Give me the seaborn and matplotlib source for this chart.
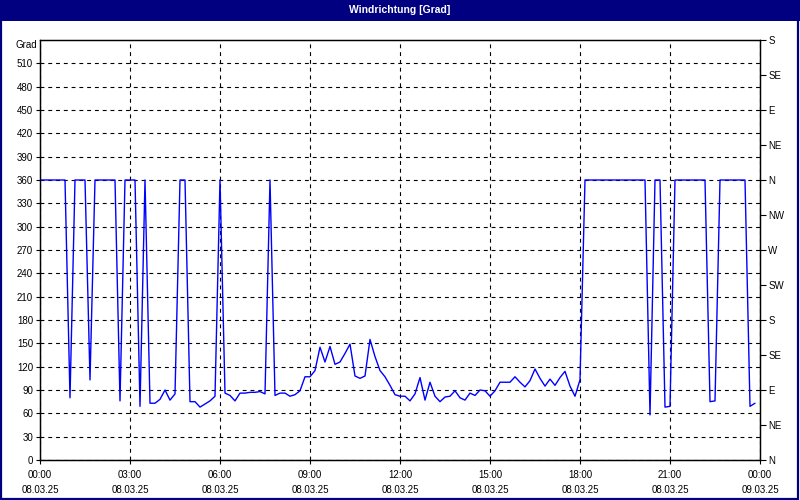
import numpy as np
import pandas as pd
import matplotlib
matplotlib.use("Agg")
import matplotlib.pyplot as plt
from matplotlib.patches import Rectangle
import seaborn as sns

# Windrichtung in Grad, 10-Minuten-Werte vom 08.03.25
richtung = [
    360, 360, 360, 360, 360, 360, 80, 360, 360, 360, 103, 360,
    360, 360, 360, 360, 76, 360, 360, 360, 69, 360, 73, 73,
    78, 90, 77, 85, 360, 360, 75, 75, 68, 72, 76, 82,
    360, 86, 83, 76, 86, 86, 87, 87, 88, 85, 360, 83,
    86, 86, 82, 84, 89, 107, 107, 115, 145, 126, 146, 123,
    126, 137, 149, 108, 105, 108, 155, 133, 115, 107, 96, 84,
    82, 82, 76, 85, 106, 77, 100, 82, 75, 81, 82, 89,
    80, 77, 86, 83, 90, 89, 82, 89, 100, 100, 100, 107,
    100, 94, 102, 117, 105, 95, 104, 96, 106, 114, 95, 82,
    103, 360, 360, 360, 360, 360, 360, 360, 360, 360, 360, 360,
    360, 360, 58, 360, 360, 68, 69, 360, 360, 360, 360, 360,
    360, 360, 75, 76, 360, 360, 360, 360, 360, 360, 69, 73,
]
zeit = pd.date_range("2025-03-08 00:00", periods=len(richtung), freq="10min")

x_ticks = pd.date_range("2025-03-08 00:00", "2025-03-09 00:00", freq="3h")
x_minor = pd.date_range("2025-03-08 00:00", "2025-03-09 00:00", freq="1h")
x_labels = [t.strftime("%H:%M\n%d.%m.%y") for t in x_ticks]

grad_ticks = list(range(0, 540, 30))
kompass_ticks = list(range(0, 541, 45))
kompass_labels = ["N", "NE", "E", "SE", "S", "SW", "W", "NW", "N", "NE", "E", "SE", "S"]

sns.set_style("white")
plt.rcParams["font.family"] = ["Liberation Sans", "DejaVu Sans"]

navy = "#000080"
fig = plt.figure(figsize=(8, 5), dpi=100)
fig.patch.set_facecolor("white")

# title bar + window frame
fig.patches.append(Rectangle((0, 1 - 21 / 500), 1, 21 / 500, transform=fig.transFigure,
                             facecolor=navy, edgecolor="none", zorder=0))
fig.patches.append(Rectangle((0.001, 0.002), 0.997, 0.996, transform=fig.transFigure,
                             facecolor="none", edgecolor=navy, lw=1.6, zorder=5))
fig.text(0.5, 1 - 10 / 500, "Windrichtung [Grad]", color="white", ha="center", va="center",
         fontsize=7.5, fontweight="bold",
         family=["Liberation Sans Narrow", "Liberation Sans", "DejaVu Sans"])

ax = fig.add_axes([40 / 800, 40 / 500, 720 / 800, 420 / 500])
sns.lineplot(x=zeit, y=richtung, ax=ax, color="#0000FF", linewidth=1.0)

ax.set_xlim(x_ticks[0], x_ticks[-1])
ax.set_ylim(0, 540)
ax.set_xlabel("")
ax.set_ylabel("")

ax.set_yticks(grad_ticks)
ax.set_yticklabels([str(v) for v in grad_ticks])
ax.set_xticks(x_ticks)
lbls = ax.set_xticklabels(x_labels)
for lbl in lbls:
    lbl.set_linespacing(1.65)
ax.set_xticks(x_minor, minor=True)

ax.tick_params(axis="both", which="major", direction="out", length=3, width=0.8,
               color="black", labelsize=7, labelcolor="black", pad=2)
ax.tick_params(axis="x", which="major", pad=4)
ax.tick_params(axis="x", which="minor", direction="out", length=3, width=0.8, color="black")
ax.tick_params(left=True, bottom=True)

ax.grid(True, which="major", color="black", linestyle=(0, (3.5, 3.5)), linewidth=0.8)
ax.set_axisbelow(True)
for s in ax.spines.values():
    s.set_color("black")
    s.set_linewidth(0.9)

ax.text(-0.004, 1 - 5 / 420, "Grad", transform=ax.transAxes, ha="right", va="center",
        fontsize=7, color="black")

ax2 = ax.twinx()
ax2.set_ylim(0, 540)
ax2.set_yticks(kompass_ticks)
ax2.set_yticklabels(kompass_labels)
ax2.tick_params(axis="y", direction="out", length=4, width=0.8, color="black",
                labelsize=7, labelcolor="black", pad=2, right=True)
ax2.grid(False)
for s in ax2.spines.values():
    s.set_color("black")
    s.set_linewidth(0.9)

fig.savefig("out.png", dpi=100)
